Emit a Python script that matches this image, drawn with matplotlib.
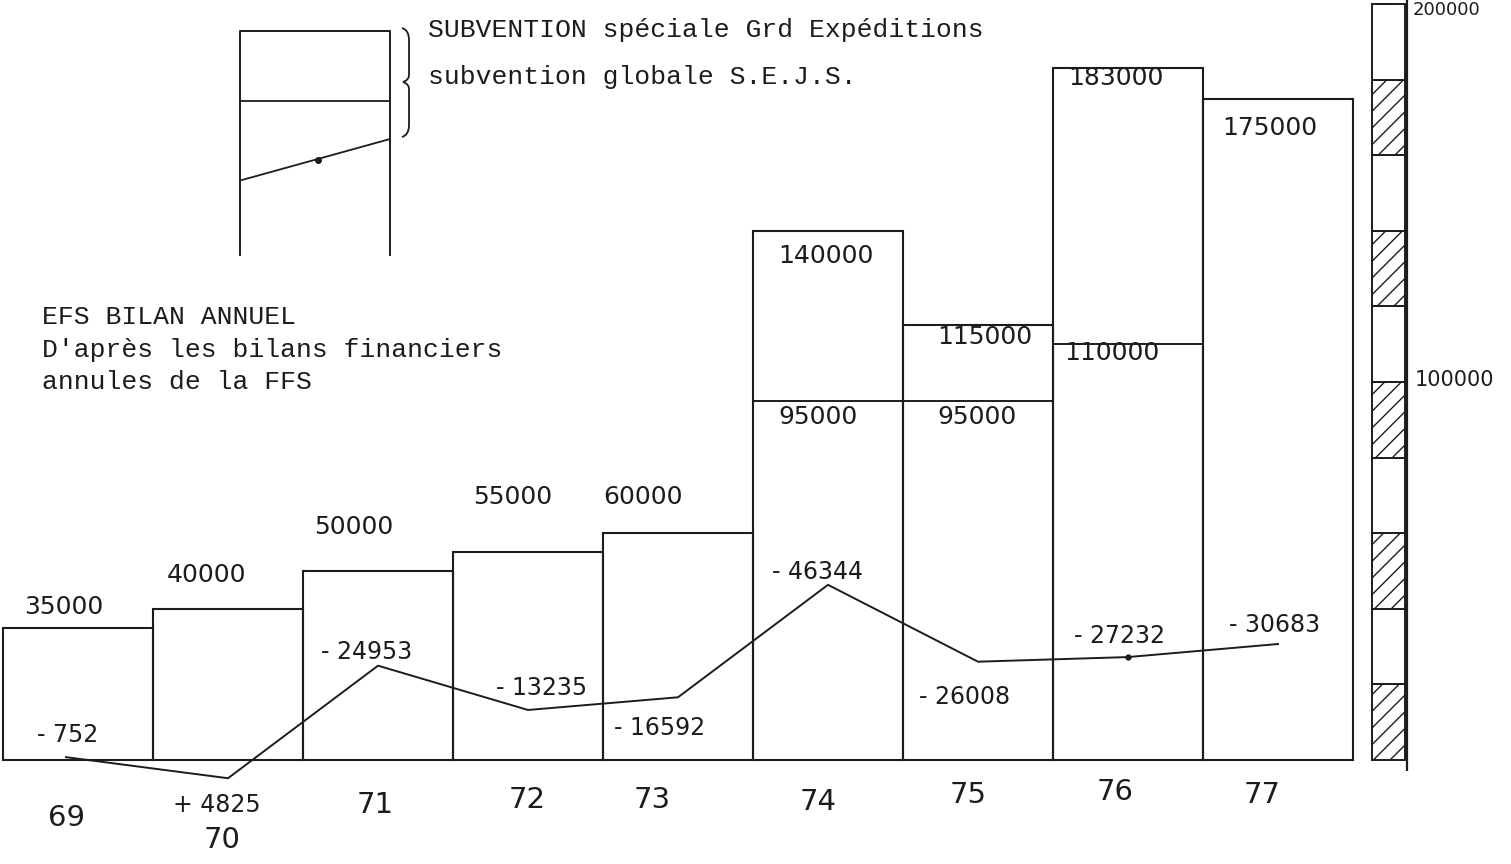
import matplotlib
matplotlib.use("Agg")
import matplotlib.pyplot as plt
from matplotlib.path import Path
from matplotlib.patches import PathPatch

# ---------------- data ----------------
years = ['69', '70', '71', '72', '73', '74', '75', '76', '77']
subvention_totale = [35000, 40000, 50000, 55000, 60000, 140000, 115000, 183000, 175000]
subvention_globale = [None, None, None, None, None, 95000, 95000, 110000, None]
bilan = [-752, 4825, -24953, -13235, -16592, -46344, -26008, -27232, -30683]
bilan_labels = ['- 752', '+ 4825', '- 24953', '- 13235', '- 16592', '- 46344', '- 26008', '- 27232', '- 30683']
scale_step = 20000
scale_max = 200000

W, H = 1511, 864
fig = plt.figure(figsize=(W / 100, H / 100), dpi=100)
ax = fig.add_axes([0, 0, 1, 1])
ax.set_axis_off()
plt.rcParams['hatch.linewidth'] = 1.0

# pixel geometry of the original drawing
x0_px, bar_px, base_px, px_per_unit = 3, 150, 760, 0.00378
ax.set_xlim(-x0_px / bar_px, (W - x0_px) / bar_px)
ax.set_ylim(-(H - base_px) / px_per_unit, base_px / px_per_unit)


def P(px, py):
    return px / W, 1 - py / H


ink = '#1c1c1c'
xs = list(range(len(years)))

# bars (outlines)
ax.bar(xs, subvention_totale, width=1, align='edge', fill=False,
       edgecolor=ink, linewidth=1.5)
for i, v in enumerate(subvention_globale):
    if v is not None:
        ax.hlines(v, i, i + 1, color=ink, linewidth=1.4)

# bilan line (deficit drawn upward)
line_x = [i + 0.5 for i in xs]
line_x[0] = 0.42
ax.plot(line_x, [-b for b in bilan], color=ink, linewidth=1.4)
ax.plot([line_x[7]], [-bilan[7]], 'o', color=ink, markersize=3.5)

# right scale strip
sx, sw = (1372 - x0_px) / bar_px, 33 / bar_px
bottoms = list(range(0, scale_max, scale_step))
for k, b in enumerate(bottoms):
    ax.bar(sx, scale_step, bottom=b, width=sw, align='edge',
           facecolor='white', edgecolor=ink, linewidth=1.4,
           hatch='//' if k % 2 == 0 else None)
ax.vlines(sx + sw + 2 / bar_px, -3000, scale_max + 2000, color=ink, linewidth=1.6)
ax.hlines(scale_max, sx + 0.04, sx + 0.16, color=ink, linewidth=1.4)

mono = 'Liberation Mono'
sans = 'DejaVu Sans'

# scale labels
ax.text(*P(1415, 380), '100000', transform=ax.transAxes, fontsize=15,
        family=sans, ha='left', va='center', color=ink)
ax.text(*P(1413, 10), '200000', transform=ax.transAxes, fontsize=13,
        family=sans, ha='left', va='center', color=ink)

# bar value labels
bar_lab_pos = [(64, 607), (207, 575), (354, 527), (513, 497), (643, 497),
               (826, 256), (985, 337), (1116, 78), (1270, 128)]
for v, (px, py) in zip(subvention_totale, bar_lab_pos):
    ax.text(*P(px, py), f'{v}', transform=ax.transAxes, fontsize=18,
            family=sans, ha='center', va='center', color=ink)
glob_lab_pos = [None, None, None, None, None, (818, 417), (977, 417), (1112, 353), None]
for v, pos in zip(subvention_globale, glob_lab_pos):
    if v is not None:
        ax.text(*P(*pos), f'{v}', transform=ax.transAxes, fontsize=18,
                family=sans, ha='center', va='center', color=ink)

# bilan labels
bil_lab_pos = [(68, 735), (217, 805), (367, 652), (542, 688), (660, 728),
               (818, 572), (965, 697), (1120, 636), (1275, 625)]
for t, (px, py) in zip(bilan_labels, bil_lab_pos):
    ax.text(*P(px, py), t, transform=ax.transAxes, fontsize=17,
            family=sans, ha='center', va='center', color=ink)

# year labels
year_pos = [(67, 818), (222, 840), (375, 805), (527, 800), (652, 800),
            (818, 802), (968, 795), (1115, 792), (1262, 795)]
for t, (px, py) in zip(years, year_pos):
    ax.text(*P(px, py), t, transform=ax.transAxes, fontsize=21,
            family=sans, ha='center', va='center', color=ink)

# titles (typewriter)
tfs = 19
ax.text(*P(42, 317), 'EFS BILAN ANNUEL', transform=ax.transAxes, fontsize=tfs,
        family=mono, ha='left', va='center', color=ink)
ax.text(*P(42, 350), "D'après les bilans financiers", transform=ax.transAxes,
        fontsize=tfs, family=mono, ha='left', va='center', color=ink)
ax.text(*P(42, 382), 'annules de la FFS', transform=ax.transAxes, fontsize=tfs,
        family=mono, ha='left', va='center', color=ink)
ax.text(*P(428, 30), 'SUBVENTION spéciale Grd Expéditions', transform=ax.transAxes,
        fontsize=tfs, family=mono, ha='left', va='center', color=ink)
ax.text(*P(428, 77), 'subvention globale S.E.J.S.', transform=ax.transAxes,
        fontsize=tfs, family=mono, ha='left', va='center', color=ink)

# legend sketch
T = ax.transAxes
ax.plot(*zip(P(240, 255), P(240, 31), P(390, 31), P(390, 255)), color=ink,
        linewidth=1.4, transform=T)
ax.plot(*zip(P(240, 101), P(390, 101)), color=ink, linewidth=1.3, transform=T)
ax.plot(*zip(P(242, 180), P(390, 139)), color=ink, linewidth=1.3, transform=T)
ax.plot(*P(318, 160), 'o', color=ink, markersize=4, transform=T)

# brace
verts = [P(402, 28), P(409, 30), P(409, 40),
         P(409, 75), P(409, 80), P(403, 82),
         P(409, 84), P(409, 89), P(409, 125),
         P(409, 135), P(402, 137)]
codes = [Path.MOVETO, Path.CURVE3, Path.CURVE3,
         Path.LINETO, Path.CURVE3, Path.CURVE3,
         Path.CURVE3, Path.CURVE3, Path.LINETO,
         Path.CURVE3, Path.CURVE3]
ax.add_patch(PathPatch(Path(verts, codes), fill=False, edgecolor=ink,
                       linewidth=1.3, transform=T))

fig.savefig('out.png', dpi=100, facecolor='white')
